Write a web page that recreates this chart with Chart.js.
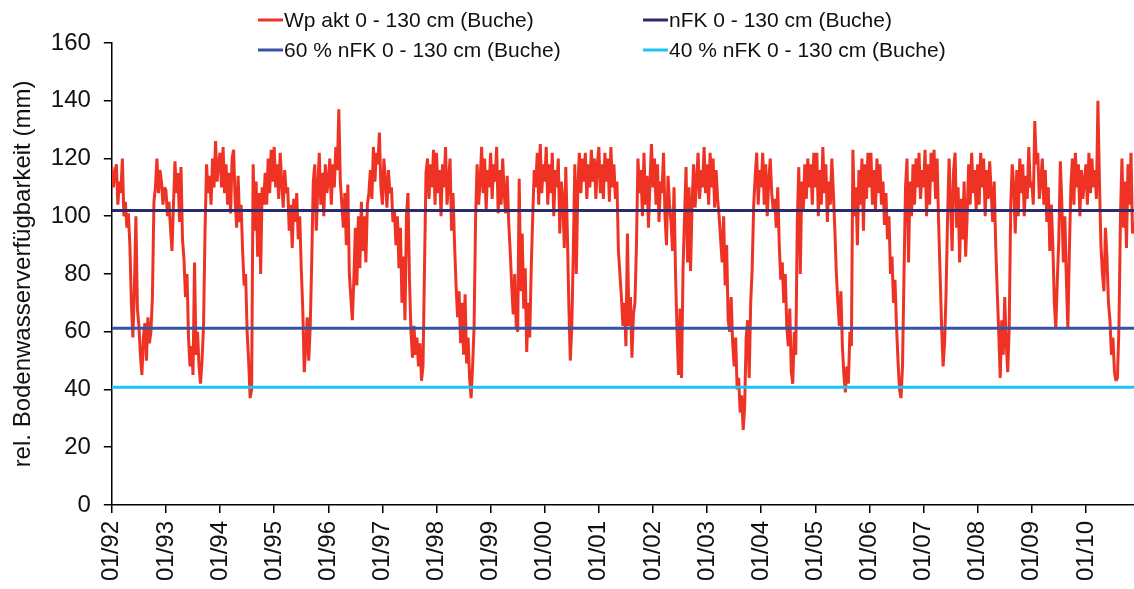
<!DOCTYPE html>
<html lang="de">
<head>
<meta charset="utf-8">
<title>Bodenwasserverfügbarkeit Buche</title>
<script src="https://cdn.jsdelivr.net/npm/chart.js@4.4.1/dist/chart.umd.min.js"></script>
<style>
  html, body { margin: 0; padding: 0; background: #fff; }
  #wrap { width: 1134px; height: 589px; position: relative; }
</style>
</head>
<body>
<div id="wrap"><canvas id="bwChart"></canvas></div>
<script>
// Wp akt 0 - 130 cm (Buche), drei Werte je Monat (Dekaden), in mm
const wp1992 = [117,110,115, 118,104,112, 108,120,100, 105,96,101, 90,70,58, 75,100,68, 62,52,45, 58,63,50, 65,56,60, 72,105,110, 120,108,116, 112,104,110];
const wp1993 = [109,100,105, 96,88,104, 119,108,115, 98,117,92, 85,72,80, 58,48,55, 45,84,52, 60,48,42, 50,62,95, 118,108,114, 104,120,110, 126,112,118];
const wp1994 = [122,110,124, 108,118,104, 115,101,120, 123,106,96, 114,98,104, 88,76,80, 60,50,37, 40,118,95, 112,86,108, 80,110,104, 115,104,120, 108,123,112];
const wp1995 = [124,110,118, 106,122,112, 103,116,108, 110,95,104, 89,106,98, 108,92,100, 82,68,46, 55,65,50, 62,85,112, 118,95,110, 122,104,115, 100,118,108];
const wp1996 = [112,120,104, 118,110,124, 116,137,112, 104,96,108, 90,111,80, 72,64,78, 96,76,100, 82,105,88, 100,84,104, 108,116,106, 124,112,122, 118,129,110];
const wp1997 = [104,120,112, 103,116,108, 110,98,102, 90,100,82, 96,70,86, 64,100,108, 78,60,51, 62,52,58, 48,56,43, 48,82,115, 120,106,118, 110,123,104];
const wp1998 = [122,108,116, 100,118,110, 124,104,112, 120,95,108, 90,76,65, 74,56,70, 52,73,49, 58,44,37, 48,62,100, 118,104,112, 124,108,120, 102,116,110];
const wp1999 = [122,106,118, 112,124,101, 116,104,120, 108,101,114, 98,88,76, 66,80,62, 60,113,74, 94,68,82, 53,70,58, 82,100,116, 110,122,104, 125,108,118];
const wp2000 = [112,124,104, 118,108,122, 100,116,110, 120,94,112, 106,89,117, 95,70,50, 62,88,118, 80,110,122, 108,120,112, 122,106,118, 110,123,112, 120,106,118];
const wp2001 = [124,108,118, 106,122,112, 120,105,124, 110,118,106, 112,88,80, 72,62,70, 55,94,62, 72,51,66, 70,90,120, 108,116,100, 122,104,114, 96,112,125];
const wp2002 = [110,120,104, 118,98,112, 108,122,100, 90,114,104, 98,88,110, 80,60,45, 68,44,82, 100,117,84, 110,81,104, 118,103,112, 122,106,116, 110,124,108];
const wp2003 = [118,104,122, 110,120,103, 116,106,100, 92,84,100, 76,90,64, 60,72,56, 48,58,40, 44,32,38, 26,34,58, 64,44,70, 82,104,114, 122,104,116];
const wp2004 = [110,122,104, 118,100,112, 120,108,102, 106,96,110, 90,78,84, 70,80,62, 55,68,46, 42,60,52, 98,117,80, 112,102,118, 106,120,110, 118,104,122];
const wp2005 = [110,122,100, 116,104,124, 108,118,98, 112,104,120, 108,95,80, 70,62,74, 55,45,39, 48,42,60, 55,123,100, 110,90,116, 104,120,95, 118,106,122];
const wp2006 = [110,122,104, 116,102,120, 108,118,104, 112,97,108, 92,100,80, 86,70,78, 62,50,40, 37,48,80, 110,120,84, 112,100,118, 104,120,110, 122,106,116];
const wp2007 = [110,123,100, 118,104,122, 112,123,106, 120,98,80, 62,48,56, 74,100,120, 104,88,116, 122,96,110, 84,106,92, 112,86,100, 118,104,122, 108,116,102];
const wp2008 = [118,104,122, 110,120,100, 116,106,119, 108,98,112, 90,74,60, 44,64,52, 72,56,46, 62,104,118, 110,94,116, 100,120,108, 118,100,114, 106,124,110];
const wp2009 = [112,104,133, 118,122,106, 112,120,104, 116,98,110, 88,104,90, 70,61,78, 92,119,104, 84,100,78, 61,88,110, 120,104,122, 110,118,100, 116,106,112];
const wp2010 = [118,104,122, 108,120,110, 116,106,140, 112,90,80, 74,96,86, 70,64,52, 58,46,43, 44,62,100, 120,96,112, 89,118,104, 122,94,98];

// Grenzwerte nFK
const nfk = 102;
const nfk60 = 61.2;
const nfk40 = 40.8;

const tickLabels = ['01/92','01/93','01/94','01/95','01/96','01/97','01/98','01/99','01/00','01/01',
                    '01/02','01/03','01/04','01/05','01/06','01/07','01/08','01/09','01/10'];
const seriesNames = ['Wp akt 0 - 130 cm (Buche)', 'nFK 0 - 130 cm (Buche)',
                     '60 % nFK 0 - 130 cm (Buche)', '40 % nFK 0 - 130 cm (Buche)'];

const startYear = 1992;
const stepsPerYear = 36;

// x = Jahr als Dezimalzahl
const wpYears = [wp1992, wp1993, wp1994, wp1995, wp1996, wp1997, wp1998, wp1999, wp2000, wp2001,
                 wp2002, wp2003, wp2004, wp2005, wp2006, wp2007, wp2008, wp2009, wp2010];
const wpPoints = [];
wpYears.forEach((werte, j) => {
    werte.forEach((v, k) => wpPoints.push({ x: startYear + j + k / stepsPerYear, y: v }));
});
const xEnd = wpPoints[wpPoints.length - 1].x;

function flatLine(v) {
    return [{ x: startYear, y: v }, { x: xEnd, y: v }];
}

const fontFamily = '"Liberation Sans", Arial, sans-serif';

// legende oben, 2 x 2, liegt teilweise über dem Diagramm
const cornerLegend = {
    id: 'cornerLegend',
    afterDraw(chart) {
        const ctx = chart.ctx;
        const slots = [[258, 20], [643, 20], [258, 50], [643, 50]];
        ctx.save();
        ctx.font = '21px ' + fontFamily;
        ctx.textBaseline = 'middle';
        ctx.fillStyle = '#111';
        chart.data.datasets.forEach((ds, i) => {
            const [x, y] = slots[i];
            ctx.strokeStyle = ds.borderColor;
            ctx.lineWidth = 3;
            ctx.beginPath();
            ctx.moveTo(x, y);
            ctx.lineTo(x + 25, y);
            ctx.stroke();
            ctx.fillText(ds.label, x + 26, y + 1);
        });
        ctx.restore();
    }
};

const tickFont = { family: fontFamily, size: 24 };

new Chart(document.getElementById('bwChart'), {
    type: 'line',
    data: {
        datasets: [
            {
                label: seriesNames[0],
                data: wpPoints,
                borderColor: '#EE3325',
                borderWidth: 3,
                borderJoinStyle: 'bevel',
                pointRadius: 0,
                tension: 0,
                order: 1
            },
            {
                label: seriesNames[1],
                data: flatLine(nfk),
                borderColor: '#2B2A6E',
                borderWidth: 3,
                pointRadius: 0,
                order: 0
            },
            {
                label: seriesNames[2],
                data: flatLine(nfk60),
                borderColor: '#3A52A4',
                borderWidth: 3,
                pointRadius: 0,
                order: 0
            },
            {
                label: seriesNames[3],
                data: flatLine(nfk40),
                borderColor: '#1CC4F0',
                borderWidth: 3,
                pointRadius: 0,
                order: 0
            }
        ]
    },
    options: {
        responsive: true,
        maintainAspectRatio: false,
        animation: false,
        parsing: false,
        layout: {
            padding: { left: 9, right: 0, top: 43, bottom: 0 }
        },
        plugins: {
            legend: { display: false },
            tooltip: { enabled: false }
        },
        scales: {
            x: {
                type: 'linear',
                min: startYear,
                max: xEnd,
                grid: { drawOnChartArea: false, tickLength: 8, color: '#000', lineWidth: 1.5 },
                border: { color: '#000', width: 1.5 },
                ticks: {
                    stepSize: 1,
                    autoSkip: false,
                    includeBounds: false,
                    maxRotation: 90,
                    minRotation: 90,
                    padding: 8,
                    color: '#111',
                    font: tickFont,
                    callback: (v) => tickLabels[v - startYear] ?? ''
                }
            },
            y: {
                min: 0,
                max: 160,
                grid: { drawOnChartArea: false, tickLength: 8, color: '#000', lineWidth: 1.5 },
                border: { color: '#000', width: 1.5 },
                ticks: {
                    stepSize: 20,
                    padding: 13,
                    color: '#111',
                    font: tickFont
                },
                title: {
                    display: true,
                    text: 'rel. Bodenwasserverfügbarkeit (mm)',
                    color: '#111',
                    font: tickFont,
                    padding: { top: 0, bottom: 0 }
                }
            }
        }
    },
    plugins: [cornerLegend]
});
</script>
</body>
</html>
